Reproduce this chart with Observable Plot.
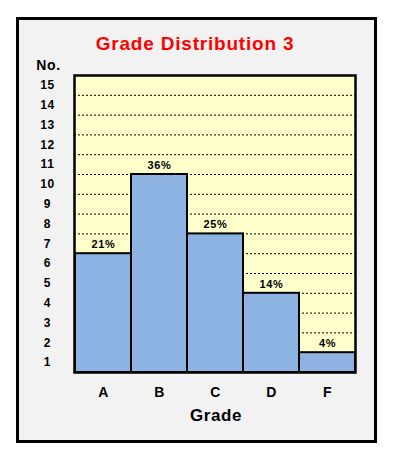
<!DOCTYPE html>
<html>
<head>
<meta charset="utf-8">
<script src="https://cdn.jsdelivr.net/npm/d3@7"></script>
<script src="https://cdn.jsdelivr.net/npm/@observablehq/plot@0.6"></script>
<style>
  html, body { margin: 0; padding: 0; background: #fff; }
  #frame { position: absolute; left: 16px; top: 17px; width: 355px; height: 420px; border: 3px solid #000; background: #f2f2f2; }
  #chart { position: absolute; left: 0; top: 0; }
  #chart svg { background: transparent; }
  #chart svg text { letter-spacing: 0.6px; }
</style>
</head>
<body>
<div id="frame"></div>
<div id="chart"></div>
<script>
const grades = ["A", "B", "C", "D", "F"];
const counts = [6, 10, 7, 4, 1];
const percents = ["21%", "36%", "25%", "14%", "4%"];
const yTicks = [1, 2, 3, 4, 5, 6, 7, 8, 9, 10, 11, 12, 13, 14, 15];
const gridLines = [1, 2, 3, 4, 5, 6, 7, 8, 9, 10, 11, 12, 13, 14];
const titleText = "Grade Distribution 3";
const yLabel = "No.";
const xLabel = "Grade";

const data = grades.map((g, i) => ({grade: g, count: counts[i], pct: percents[i]}));
const font = "'Liberation Sans', Arial, sans-serif";

const chart = Plot.plot({
  width: 393,
  height: 462,
  marginLeft: 74,
  marginRight: 38,
  marginTop: 75,
  marginBottom: 90,
  style: {fontFamily: font, background: "transparent", color: "#000"},
  x: {domain: grades, padding: 0, label: null},
  y: {domain: [0, 15], axis: null},
  marks: [
    Plot.frame({fill: "#FFFFCC"}),
    Plot.ruleY(gridLines, {stroke: "#000", strokeWidth: 1, strokeDasharray: "2,2"}),
    Plot.barY(data, {x: "grade", y: "count", fill: "#8DB3E2", stroke: "#000", strokeWidth: 2}),
    Plot.text(data, {x: "grade", y: "count", text: "pct", dy: -9, fontSize: 11, fontWeight: "bold", fill: "#000"}),
    Plot.frame({stroke: "#000", strokeWidth: 2.5}),
    Plot.text(yTicks, {y: d => d - 0.5, text: d => String(d), frameAnchor: "left", dx: -27, textAnchor: "middle", lineAnchor: "middle", fontSize: 12, fontWeight: "bold", fill: "#000"}),
    Plot.axisX({tickSize: 0, tickPadding: 15, fontSize: 14, fontWeight: "bold", label: null}),
    Plot.text([yLabel], {frameAnchor: "top-left", dx: -26, dy: -10, textAnchor: "middle", lineAnchor: "middle", fontSize: 14, fontWeight: "bold", fill: "#000"}),
    Plot.text([xLabel], {frameAnchor: "bottom", dx: 1, dy: 43, lineAnchor: "middle", fontSize: 17, fontWeight: "bold", fill: "#000"}),
    Plot.text([titleText], {frameAnchor: "top", dx: -20, dy: -32, lineAnchor: "middle", fontSize: 19, fontWeight: "bold", fill: "#FF0000"})
  ]
});
d3.select(chart).selectAll("text")
  .filter(function() { return this.textContent === titleText; })
  .style("letter-spacing", "0.8px");
document.getElementById("chart").appendChild(chart);
</script>
</body>
</html>
